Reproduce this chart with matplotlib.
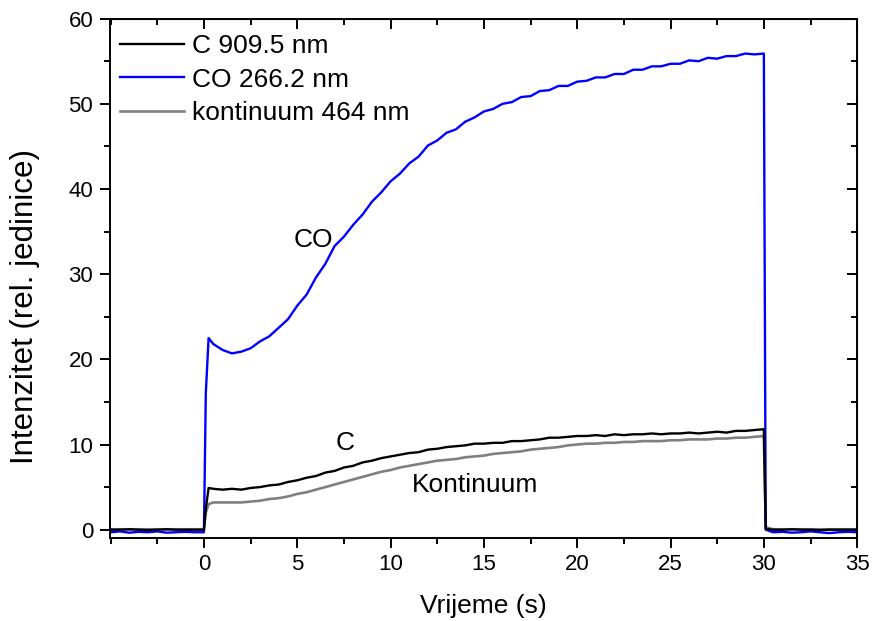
import numpy as np
import matplotlib
matplotlib.use("Agg")
import matplotlib.pyplot as plt
from matplotlib.ticker import MultipleLocator

plt.rcParams["font.family"] = ["Liberation Sans", "DejaVu Sans"]

# time axis (s): baseline, switch-on, plateau, switch-off, baseline
time_s = np.concatenate([
    np.arange(-5.0, 0.01, 0.5),
    [0.1, 0.25],
    np.arange(0.5, 30.01, 0.5),
    [30.1],
    np.arange(30.5, 35.01, 0.5),
])

co_266 = [
    -0.3, -0.2, -0.35, -0.25, -0.3, -0.2, -0.35, -0.3, -0.25, -0.3, -0.3,
    16.0, 22.5,
    21.8, 21.1, 20.7, 20.9, 21.3, 22.1, 22.7, 23.7, 24.7, 26.3,
    27.6, 29.6, 31.2, 33.3, 34.4, 35.8, 37.0, 38.5, 39.6, 40.9,
    41.8, 43.0, 43.8, 45.1, 45.7, 46.6, 47.0, 47.9, 48.4, 49.1,
    49.4, 50.0, 50.2, 50.8, 50.9, 51.5, 51.6, 52.1, 52.1, 52.6,
    52.7, 53.1, 53.1, 53.5, 53.5, 54.0, 54.0, 54.4, 54.4, 54.7,
    54.7, 55.1, 55.0, 55.4, 55.3, 55.6, 55.6, 55.9, 55.8, 55.9,
    0.0,
    -0.3, -0.25, -0.35, -0.3, -0.2, -0.3, -0.4, -0.3, -0.25, -0.3,
]

c_909 = [
    0.0, 0.0, 0.05, 0.0, -0.05, 0.0, 0.05, 0.0, 0.0, 0.0, 0.0,
    2.5, 4.9,
    4.8, 4.7, 4.8, 4.7, 4.9, 5.0, 5.2, 5.3, 5.6, 5.8,
    6.1, 6.3, 6.7, 6.9, 7.3, 7.5, 7.9, 8.1, 8.4, 8.6,
    8.8, 9.0, 9.1, 9.4, 9.5, 9.7, 9.8, 9.9, 10.1, 10.1,
    10.2, 10.2, 10.4, 10.4, 10.5, 10.6, 10.8, 10.8, 10.9, 11.0,
    11.0, 11.1, 11.0, 11.2, 11.1, 11.2, 11.2, 11.3, 11.2, 11.3,
    11.3, 11.4, 11.3, 11.4, 11.5, 11.4, 11.6, 11.6, 11.7, 11.8,
    0.1,
    0.0, 0.0, 0.05, 0.0, 0.0, -0.05, 0.0, 0.0, 0.0, 0.0,
]

kont_464 = [
    0.05, 0.05, 0.05, 0.05, 0.05, 0.05, 0.05, 0.05, 0.05, 0.05, 0.05,
    2.0, 3.0,
    3.2, 3.2, 3.2, 3.2, 3.3, 3.4, 3.6, 3.7, 3.9, 4.2,
    4.4, 4.7, 5.0, 5.3, 5.6, 5.9, 6.2, 6.5, 6.8, 7.0,
    7.3, 7.5, 7.7, 7.9, 8.1, 8.2, 8.3, 8.5, 8.6, 8.7,
    8.9, 9.0, 9.1, 9.2, 9.4, 9.5, 9.6, 9.7, 9.9, 10.0,
    10.1, 10.1, 10.2, 10.2, 10.3, 10.3, 10.4, 10.4, 10.4, 10.5,
    10.5, 10.6, 10.6, 10.6, 10.7, 10.7, 10.8, 10.8, 10.9, 11.0,
    0.3,
    0.05, 0.05, 0.05, 0.05, 0.05, 0.05, 0.05, 0.05, 0.05, 0.05,
]

fig = plt.figure(figsize=(8.72, 6.21), dpi=100)
ax = fig.add_axes([0.126, 0.134, 0.857, 0.836])

ax.plot(time_s, c_909, color="black", lw=1.7, label="C 909.5 nm", zorder=3)
ax.plot(time_s, co_266, color="#0000ff", lw=1.7, label="CO 266.2 nm", zorder=2)
ax.plot(time_s, kont_464, color="#808080", lw=1.9, label="kontinuum 464 nm", zorder=1)

ax.set_xlim(-5.04, 35)
ax.set_ylim(-0.95, 60)
ax.set_xticks([0, 5, 10, 15, 20, 25, 30, 35])
ax.xaxis.set_minor_locator(MultipleLocator(2.5))
ax.yaxis.set_major_locator(MultipleLocator(10))
ax.yaxis.set_minor_locator(MultipleLocator(5))

for s in ax.spines.values():
    s.set_linewidth(1.4)
ax.tick_params(which="both", direction="out", top=False, right=False,
               labelsize=16, width=1.4)
ax.tick_params(which="major", length=7, pad=5)
ax.tick_params(which="minor", length=4)

# mirrored inward ticks on top and right
axt = ax.secondary_xaxis("top")
axt.set_xticks([0, 5, 10, 15, 20, 25, 30, 35])
axt.xaxis.set_minor_locator(MultipleLocator(2.5))
axt.tick_params(which="both", direction="in", labeltop=False, width=1.4)
axt.tick_params(which="major", length=7)
axt.tick_params(which="minor", length=4)
axr = ax.secondary_yaxis("right")
axr.yaxis.set_major_locator(MultipleLocator(10))
axr.yaxis.set_minor_locator(MultipleLocator(5))
axr.tick_params(which="both", direction="in", labelright=False, width=1.4)
axr.tick_params(which="major", length=7)
axr.tick_params(which="minor", length=4)

ax.set_xlabel("Vrijeme (s)", fontsize=19, labelpad=13)
ax.set_ylabel("Intenzitet (rel. jedinice)", fontsize=22.5)
ax.yaxis.set_label_coords(-0.093, 0.445)

ax.text(5.85, 34.0, "CO", fontsize=19, ha="center", va="center")
ax.text(7.55, 10.2, "C", fontsize=19, ha="center", va="center")
ax.text(14.5, 5.2, "Kontinuum", fontsize=19, ha="center", va="center")

ax.legend(loc="upper left", bbox_to_anchor=(0.013, 0.97), frameon=False,
          fontsize=19, handlelength=2.45, handletextpad=0.3,
          labelspacing=0.36, borderpad=0, borderaxespad=0)

fig.savefig("out.png", dpi=100)
